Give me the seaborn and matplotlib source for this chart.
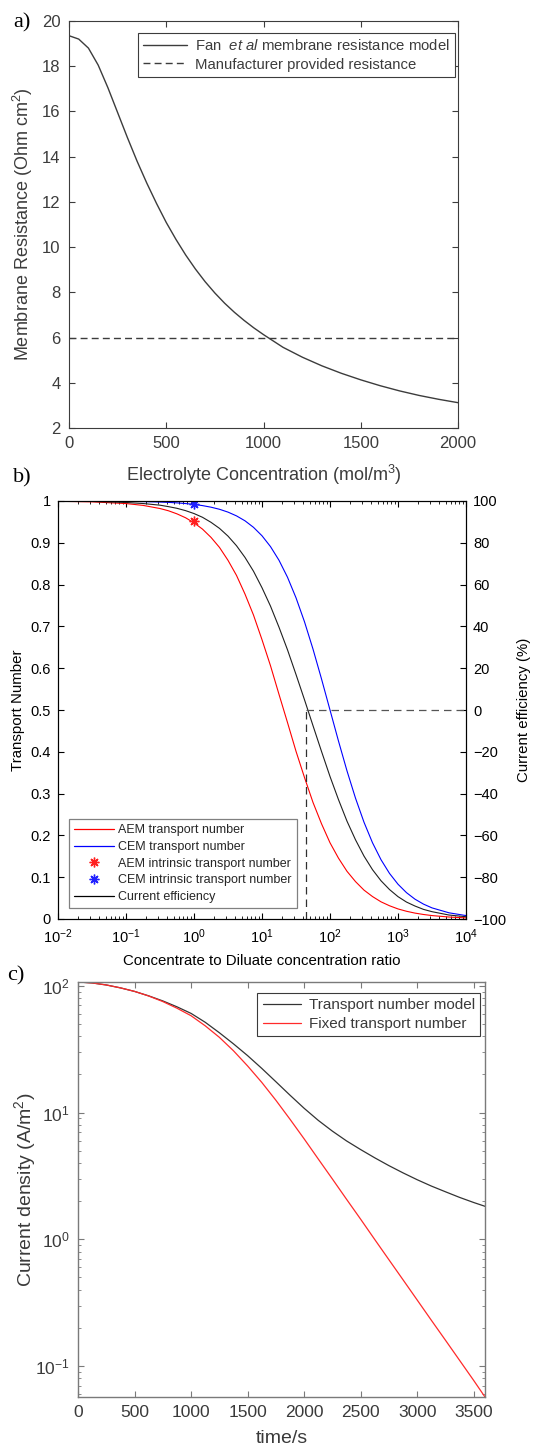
import numpy as np
import matplotlib
matplotlib.use("Agg")
import matplotlib.pyplot as plt
from matplotlib.lines import Line2D
from matplotlib.ticker import LogLocator, NullFormatter, FixedLocator, FixedFormatter
import seaborn as sns

# ---------------- data ----------------
# (a) membrane resistance vs electrolyte concentration
conc = [0, 50, 100, 150, 200, 250, 300, 350, 400, 450, 500, 550, 600, 650, 700, 750,
        800, 850, 900, 950, 1000, 1100, 1200, 1300, 1400, 1500, 1600, 1700, 1800,
        1900, 2000]
res_fan = [19.35, 19.2, 18.8, 18.05, 17.05, 15.95, 14.85, 13.8, 12.83, 11.93, 11.09,
           10.34, 9.65, 9.03, 8.47, 7.97, 7.52, 7.12, 6.76, 6.43, 6.13, 5.57, 5.13,
           4.75, 4.42, 4.13, 3.87, 3.64, 3.44, 3.27, 3.12]
res_manufacturer = 6.0

# (b) transport numbers vs concentration ratio (log10 of ratio)
ratio_exp = [-2, -1.5, -1, -0.75, -0.5, -0.375, -0.25, -0.125, 0, 0.125, 0.25, 0.375,
             0.5, 0.625, 0.75, 0.875, 1.0, 1.125, 1.25, 1.375, 1.5, 1.625, 1.75,
             1.875, 2.0, 2.125, 2.25, 2.375, 2.5, 2.625, 2.75, 2.875, 3.0, 3.125,
             3.25, 3.375, 3.5, 3.75, 4.0]
aem_t = [0.9993, 0.998, 0.9939, 0.9895, 0.982, 0.9766, 0.9692, 0.96, 0.9478, 0.9327,
         0.913, 0.8889, 0.8581, 0.822, 0.7773, 0.7271, 0.6682, 0.6059, 0.5374, 0.47,
         0.4013, 0.3385, 0.2789, 0.2279, 0.1824, 0.1455, 0.1141, 0.0895, 0.0691,
         0.0537, 0.0411, 0.0317, 0.0241, 0.0185, 0.0141, 0.0108, 0.0082, 0.0047,
         0.0027]
cem_t = [0.9999, 0.9998, 0.9993, 0.9986, 0.9975, 0.9967, 0.9955, 0.9939, 0.9918,
         0.989, 0.9852, 0.9802, 0.9734, 0.9644, 0.9526, 0.937, 0.9168, 0.8909, 0.8582,
         0.8176, 0.7685, 0.711, 0.6457, 0.5744, 0.5, 0.4256, 0.3543, 0.2891, 0.2315,
         0.1824, 0.1419, 0.1091, 0.0832, 0.063, 0.0474, 0.0356, 0.0266, 0.0148, 0.0082]
current_eff = [99.9, 99.8, 99.3, 98.8, 98.0, 97.3, 96.5, 95.4, 94.0, 92.2, 89.8, 86.9,
               83.2, 78.6, 73.0, 66.4, 58.5, 49.7, 39.6, 28.8, 17.0, 4.9, -7.5, -19.8,
               -31.8, -42.9, -53.2, -62.1, -69.9, -76.4, -81.7, -85.9, -89.3, -91.9,
               -93.8, -95.4, -96.5, -98.1, -98.9]
intrinsic_ratio = 1.0
aem_intrinsic = 0.952
cem_intrinsic = 0.992
zero_eff_ratio = 44.0

# (c) current density vs time
time_s = [0, 125, 250, 375, 500, 625, 750, 875, 1000, 1125, 1250, 1375, 1500, 1625,
          1750, 1875, 2000, 2125, 2250, 2375, 2500, 2625, 2750, 2875, 3000, 3125,
          3250, 3375, 3500, 3600]
cd_model = [107, 105.2, 101.4, 96.2, 90.2, 83.2, 75.9, 68.2, 60.5, 51.5, 42.6, 34.8,
            28.1, 22.3, 17.5, 13.7, 10.8, 8.67, 7.13, 5.97, 5.1, 4.39, 3.81, 3.34,
            2.95, 2.63, 2.37, 2.14, 1.95, 1.82]
cd_fixed = [107, 105.2, 101.4, 96.2, 90.2, 83.0, 75.0, 66.5, 58.0, 48.3, 39.2, 30.7,
            23.3, 17.3, 12.5, 8.85, 6.2, 4.3, 2.99, 2.07, 1.44, 0.995, 0.69, 0.479,
            0.332, 0.23, 0.16, 0.111, 0.077, 0.057]

# ---------------- style ----------------
sns.set_theme(style="ticks")
plt.rcParams["font.family"] = ["Liberation Sans", "DejaVu Sans"]
plt.rcParams["mathtext.fontset"] = "custom"
plt.rcParams["mathtext.rm"] = "Liberation Sans"
plt.rcParams["mathtext.it"] = "Liberation Sans:italic"
plt.rcParams["mathtext.default"] = "regular"

W, H = 536, 1447
fig = plt.figure(figsize=(W / 100, H / 100), dpi=100)


def px_axes(left, top, right, bottom):
    return fig.add_axes([left / W, 1 - bottom / H, (right - left) / W, (bottom - top) / H])


# ---------------- panel a ----------------
ca = "#3c3c3c"
axA = px_axes(69, 21, 458, 428)
sns.lineplot(x=conc, y=res_fan, ax=axA, color=ca, lw=1.0, sort=False, estimator=None,
             label=r"Fan  $\it{et\ al}$ membrane resistance model")
sns.lineplot(x=[conc[0], conc[-1]], y=[res_manufacturer, res_manufacturer], ax=axA,
             color=ca, lw=1.0, linestyle=(0, (5, 3)), sort=False, estimator=None,
             label="Manufacturer provided resistance")
axA.set_xlim(0, 2000)
axA.set_ylim(2, 20)
axA.set_xticks([0, 500, 1000, 1500, 2000])
axA.set_yticks(list(range(2, 21, 2)))
axA.tick_params(direction="in", top=True, right=True, length=4, width=0.8,
                labelsize=12, colors=ca, pad=6)
for s in axA.spines.values():
    s.set_color(ca)
    s.set_linewidth(0.8)
axA.set_xlabel("Electrolyte Concentration (mol/m$^3$)", fontsize=13, color=ca)
axA.set_ylabel("Membrane Resistance (Ohm cm$^2$)", fontsize=13, color=ca)
axA.xaxis.set_label_coords(0.5, -0.085)
axA.yaxis.set_label_coords(-0.087, 0.5)
legA = axA.legend(loc="upper right", bbox_to_anchor=(0.992, 0.9705), fontsize=10.7,
                  frameon=True, fancybox=False, edgecolor=ca, framealpha=1,
                  handlelength=3.0, borderaxespad=0, borderpad=0.35, labelspacing=0.3,
                  handletextpad=0.5)
legA.get_frame().set_linewidth(0.8)
for t in legA.get_texts():
    t.set_color(ca)

# ---------------- panel b ----------------
axB = px_axes(58, 501, 466, 919)
ratio = np.power(10.0, ratio_exp)
sns.lineplot(x=ratio, y=aem_t, ax=axB, color="#ff0000", lw=0.8, sort=False, estimator=None)
sns.lineplot(x=ratio, y=cem_t, ax=axB, color="#0000ff", lw=0.8, sort=False, estimator=None)
ast = (8, 2, 0)
axB.plot([intrinsic_ratio], [aem_intrinsic], marker=ast, color="#ff2020", ms=7, mew=1, ls="none")
axB.plot([intrinsic_ratio], [cem_intrinsic], marker=ast, color="#2020ff", ms=7, mew=1, ls="none")
axB.plot([zero_eff_ratio, zero_eff_ratio], [0, 0.5], color="#303030", lw=0.9,
         ls=(0, (6, 4)))
axB.set_xscale("log")
axB.set_xlim(1e-2, 1e4)
axB.set_ylim(0, 1)
yt = [0, 0.1, 0.2, 0.3, 0.4, 0.5, 0.6, 0.7, 0.8, 0.9, 1]
yt_labels = ["0", "0.1", "0.2", "0.3", "0.4", "0.5", "0.6", "0.7", "0.8", "0.9", "1"]
axB.yaxis.set_major_locator(FixedLocator(yt))
axB.yaxis.set_major_formatter(FixedFormatter(yt_labels))
axB.xaxis.set_major_locator(LogLocator(base=10, numticks=20))
axB.xaxis.set_minor_locator(LogLocator(base=10, subs=np.arange(2, 10), numticks=20))
axB.xaxis.set_minor_formatter(NullFormatter())
axB.tick_params(axis="x", which="both", direction="in", top=True, bottom=True,
                labelsize=10.5, colors="black", pad=6)
axB.tick_params(axis="x", which="major", length=4, width=0.8)
axB.tick_params(axis="x", which="minor", length=2, width=0.6)
axB.tick_params(axis="y", direction="in", left=True, right=False, length=4, width=0.8,
                labelsize=10.5, colors="black", pad=5)
for s in axB.spines.values():
    s.set_color("black")
    s.set_linewidth(0.8)
axB.set_xlabel("Concentrate to Diluate concentration ratio", fontsize=10.8, color="black")
axB.set_ylabel("Transport Number", fontsize=10.8, color="black")
axB.xaxis.set_label_coords(0.5, -0.083)
axB.yaxis.set_label_coords(-0.08, 0.5)

axB2 = axB.twinx()
sns.lineplot(x=ratio, y=current_eff, ax=axB2, color="#202020", lw=0.8, sort=False,
             estimator=None)
axB2.plot([zero_eff_ratio, 1e4], [0, 0], color="#555555", lw=0.9, ls=(0, (6, 4)))
axB2.set_ylim(-100, 100)
axB2.set_yticks(list(range(-100, 101, 20)))
axB2.tick_params(axis="y", direction="in", right=True, left=False, length=4, width=0.8,
                 labelsize=10.5, colors="black", pad=5)
axB2.set_ylabel("Current efficiency (%)", fontsize=10.8, color="black")
axB2.yaxis.set_label_coords(1.125, 0.5)
for s in axB2.spines.values():
    s.set_color("black")
    s.set_linewidth(0.8)

handles = [
    Line2D([], [], color="#ff0000", lw=0.9),
    Line2D([], [], color="#0000ff", lw=0.9),
    Line2D([], [], color="#ff2020", marker=ast, ms=7, ls="none"),
    Line2D([], [], color="#2020ff", marker=ast, ms=7, ls="none"),
    Line2D([], [], color="black", lw=0.9),
]
labels = ["AEM transport number", "CEM transport number", "AEM intrinsic transport number",
          "CEM intrinsic transport number", "Current efficiency"]
legB = axB2.legend(handles, labels, loc="lower left", bbox_to_anchor=(0.027, 0.026),
                   fontsize=9, frameon=True, fancybox=False, edgecolor="#808080",
                   framealpha=1, handlelength=3.2, borderaxespad=0, borderpad=0.4,
                   labelspacing=0.38, handletextpad=0.35)
legB.get_frame().set_linewidth(0.9)

# ---------------- panel c ----------------
cc = "#7a7a7a"
ct = "#3a3a3a"
axC = px_axes(78, 982, 485, 1397)
sns.lineplot(x=time_s, y=cd_model, ax=axC, color="#333333", lw=0.9, sort=False,
             estimator=None, label="Transport number model")
sns.lineplot(x=time_s, y=cd_fixed, ax=axC, color="#ff2a2a", lw=0.9, sort=False,
             estimator=None, label="Fixed transport number")
axC.set_yscale("log")
axC.set_xlim(0, 3600)
axC.set_ylim(cd_fixed[-1], cd_fixed[0])
axC.set_xticks(list(range(0, 3501, 500)))
axC.yaxis.set_major_locator(LogLocator(base=10, numticks=10))
axC.yaxis.set_minor_locator(LogLocator(base=10, subs=np.arange(2, 10), numticks=10))
axC.yaxis.set_minor_formatter(NullFormatter())
axC.tick_params(which="both", direction="in", top=True, right=True, labelsize=12.5,
                colors=cc, labelcolor=ct, pad=6)
axC.tick_params(which="major", length=4, width=0.8)
axC.tick_params(which="minor", length=2, width=0.6)
for s in axC.spines.values():
    s.set_color(cc)
    s.set_linewidth(1.0)
axC.set_xlabel("time/s", fontsize=14, color=ct)
axC.set_ylabel("Current density (A/m$^2$)", fontsize=14, color=ct)
axC.xaxis.set_label_coords(0.5, -0.08)
axC.yaxis.set_label_coords(-0.098, 0.5)
legC = axC.legend(loc="upper right", bbox_to_anchor=(0.988, 0.9735), fontsize=11,
                  frameon=True, fancybox=False, edgecolor=ct, framealpha=1,
                  handlelength=2.5, borderaxespad=0, borderpad=0.35, labelspacing=0.3,
                  handletextpad=0.5)
legC.get_frame().set_linewidth(0.8)
for t in legC.get_texts():
    t.set_color(ct)

# ---------------- panel labels ----------------
for txt, x, y in [("a)", 13, 23), ("b)", 13, 478), ("c)", 7, 976)]:
    fig.text(x / W, 1 - y / H, txt, family="Liberation Serif", fontsize=16,
             va="center", ha="left", color="black")

fig.savefig("out.png", dpi=100)
